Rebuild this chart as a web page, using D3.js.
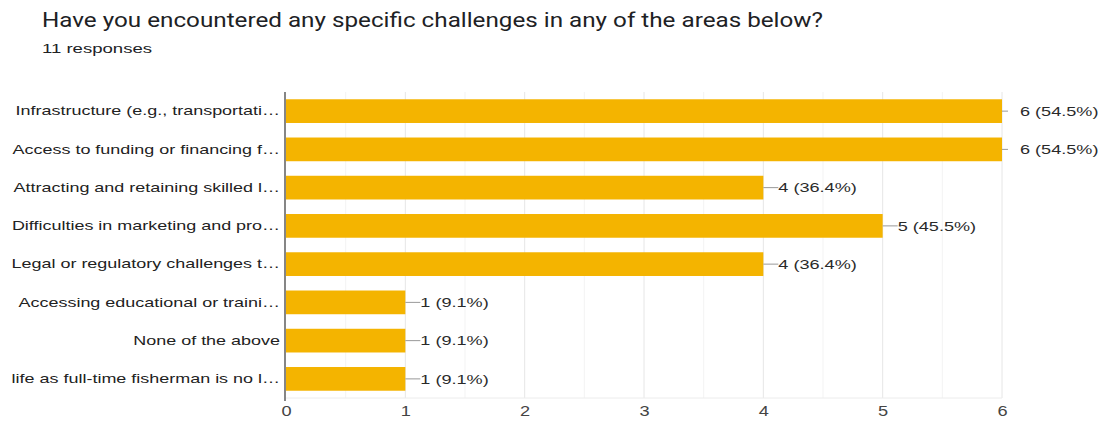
<!DOCTYPE html>
<html><head><meta charset="utf-8">
<script src="https://cdn.jsdelivr.net/npm/d3@7"></script>
<style>
html,body{margin:0;padding:0;background:#fff;}
svg{display:block;}
</style></head>
<body>
<svg id="chart" width="1101" height="430"></svg>
<script>
const title = "Have you encountered any specific challenges in any of the areas below?";
const subtitle = "11 responses";
const categories = [
  "Infrastructure (e.g., transportati\u2026",
  "Access to funding or financing f\u2026",
  "Attracting and retaining skilled l\u2026",
  "Difficulties in marketing and pro\u2026",
  "Legal or regulatory challenges t\u2026",
  "Accessing educational or traini\u2026",
  "None of the above",
  "life as full-time fisherman is no l\u2026"
];
const counts = [6, 6, 4, 5, 4, 1, 1, 1];
const percents = ["54.5%", "54.5%", "36.4%", "45.5%", "36.4%", "9.1%", "9.1%", "9.1%"];
const xTicks = [0, 1, 2, 3, 4, 5, 6];

const svg = d3.select("#chart");
const m = {left: 286, right: 1002, top: 92, bottom: 398};
const FONT = "'Liberation Sans', Arial, sans-serif";
const stretch = (sel, k) => sel.each(function () {
  const w = this.getComputedTextLength();
  d3.select(this).attr("textLength", w * k).attr("lengthAdjust", "spacingAndGlyphs");
});

svg.append("text").attr("x", 42).attr("y", 27)
  .attr("font-family", "Roboto, 'Liberation Sans', Arial, sans-serif")
  .attr("font-size", 19.5).attr("fill", "#202124")
  .attr("textLength", 781).attr("lengthAdjust", "spacingAndGlyphs")
  .text(title);
svg.append("text").attr("x", 42).attr("y", 53)
  .attr("font-family", FONT)
  .attr("font-size", 12.5).attr("fill", "#202124")
  .attr("textLength", 110).attr("lengthAdjust", "spacingAndGlyphs")
  .text(subtitle);

const x = d3.scaleLinear().domain([0, 6]).range([m.left, m.right]);
const y = d3.scaleBand().domain(categories).range([m.top, m.bottom]).paddingInner(0.38).paddingOuter(0.19);

const g = svg.append("g");
g.selectAll("line.minor").data(d3.range(0.5, 6, 1)).join("line")
  .attr("x1", d => x(d)).attr("x2", d => x(d))
  .attr("y1", m.top).attr("y2", m.bottom)
  .attr("stroke", "#f3f3f3").attr("stroke-width", 1);
g.selectAll("line.major").data(xTicks.slice(1)).join("line")
  .attr("x1", d => x(d)).attr("x2", d => x(d))
  .attr("y1", m.top).attr("y2", m.bottom)
  .attr("stroke", "#e6e6e6").attr("stroke-width", 1);
g.append("line").attr("x1", m.left).attr("x2", m.right).attr("y1", m.bottom).attr("y2", m.bottom)
  .attr("stroke", "#ececec");

g.selectAll("rect.bar").data(categories).join("rect")
  .attr("x", x(0)).attr("y", d => y(d))
  .attr("width", (d, i) => x(counts[i]) - x(0))
  .attr("height", y.bandwidth())
  .attr("fill", "#f4b400");

categories.forEach((c, i) => {
  const cy = y(c) + y.bandwidth() / 2;
  const x0 = x(counts[i]);
  const full = counts[i] === 6;
  g.append("line").attr("x1", x0).attr("x2", x0 + (full ? 6 : 15)).attr("y1", cy).attr("y2", cy)
    .attr("stroke", "#999").attr("stroke-width", 1);
  const t = g.append("text").attr("x", x0 + (full ? 18 : 15)).attr("y", cy).attr("dy", "0.35em")
    .attr("font-family", FONT).attr("font-size", 13.5)
    .attr("fill", "#2a2a2a").text(`${counts[i]} (${percents[i]})`);
  stretch(t, 1.34);
});

const yAxis = svg.append("g").attr("transform", `translate(${m.left - 1},0)`)
  .call(d3.axisLeft(y).tickSize(0).tickPadding(5));
yAxis.select(".domain").attr("stroke", "#444").attr("stroke-width", 1.3)
  .attr("d", `M0,${m.top}V${m.bottom + 3}`);
yAxis.selectAll("text").attr("font-family", FONT)
  .attr("font-size", 13.5).attr("fill", "#222");
stretch(yAxis.selectAll("text"), 1.33);

const xAxis = svg.append("g").attr("transform", `translate(0,${m.bottom})`)
  .call(d3.axisBottom(x).tickValues(xTicks).tickFormat(d3.format("d")).tickSize(0).tickPadding(8));
xAxis.select(".domain").remove();
xAxis.selectAll("text").attr("font-family", FONT)
  .attr("font-size", 14).attr("fill", "#444");
stretch(xAxis.selectAll("text"), 1.3);
</script>
</body></html>
